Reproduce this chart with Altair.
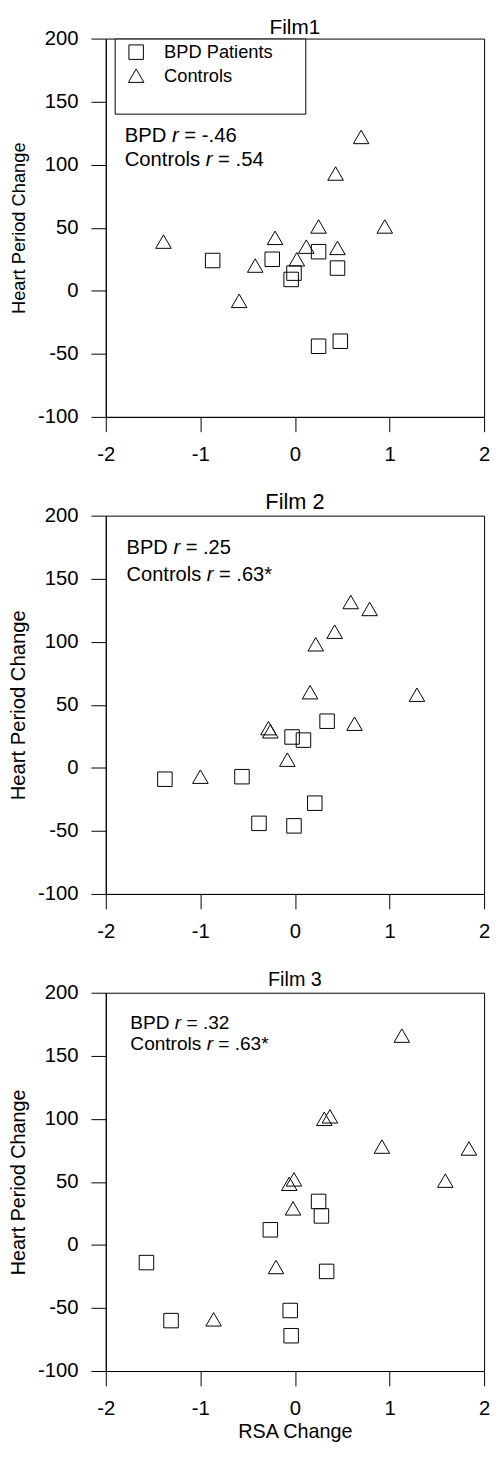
import altair as alt
import pandas as pd

FONT = "Liberation Sans"

groups = ["BPD Patients", "Controls"]
legend_spacer = " "
shapes = ["square", "triangle-up", "M0,0"]
marker_sizes = [215, 280, 0]

x_ticks = [-2, -1, 0, 1, 2]
y_ticks = [-100, -50, 0, 50, 100, 150, 200]

titles = ["Film1", "Film 2", "Film 3"]

# Film 1
f1_bpd_x = [-0.87, -0.24, -0.04, -0.01, 0.25, 0.45, 0.25, 0.48]
f1_bpd_y = [24, 25, 9, 14, 31, 18, -44, -40]
f1_ctl_x = [-1.39, -0.59, -0.42, -0.21, 0.02, 0.12, 0.25, 0.45, 0.43, 0.70, 0.95]
f1_ctl_y = [39, -8, 20, 42, 25, 35, 51, 34, 93, 122, 51]

# Film 2
f2_bpd_x = [-1.375, -0.56, -0.38, -0.01, 0.21, -0.03, 0.09, 0.34]
f2_bpd_y = [-9, -7, -44, -46, -28, 24.5, 22, 37]
f2_ctl_x = [-1.0, -0.28, -0.26, -0.08, 0.16, 0.22, 0.42, 0.59, 0.79, 0.63, 1.29]
f2_ctl_y = [-7, 31.5, 29, 6.5, 60, 98, 108, 131.5, 126, 35, 58]

# Film 3
f3_bpd_x = [-1.57, -1.31, -0.26, -0.05, -0.04, 0.25, 0.28, 0.335]
f3_bpd_y = [-14, -60, 12, -52, -72, 34.5, 23, -21]
f3_ctl_x = [-0.86, -0.20, -0.02, -0.06, -0.01, 0.31, 0.37, 0.92, 1.13, 1.59, 1.84]
f3_ctl_y = [-59, -17.5, 29, 48.5, 52, 100, 102, 78, 166, 51, 76.5]

bpd_x = [f1_bpd_x, f2_bpd_x, f3_bpd_x]
bpd_y = [f1_bpd_y, f2_bpd_y, f3_bpd_y]
ctl_x = [f1_ctl_x, f2_ctl_x, f3_ctl_x]
ctl_y = [f1_ctl_y, f2_ctl_y, f3_ctl_y]

# annotation text: (prefix, italic, suffix) per line
ann_text = [
    [("BPD", "r", "= -.46"), ("Controls", "r", "= .54")],
    [("BPD", "r", "= .25"), ("Controls", "r", "= .63*")],
    [("BPD", "r", "= .32"), ("Controls", "r", "= .63*")],
]
ann_x = [-1.80, -1.78, -1.74]
ann_y = [[123, 104], [174, 153], [176, 159]]
ann_fs = [20.5, 20.3, 19.3]
ytitle_fs = [18.5, 20.5, 20]
title_fs = [21, 22, 20]
title_off = [-9.5, -8, -7.6]

# Arial/Liberation Sans advance widths (em) for spacing pieces of text
ADV = {"B": .667, "P": .667, "D": .722, " ": .278, "C": .722, "o": .556,
       "n": .556, "t": .278, "r": .333, "l": .222, "s": .5}


def tw(s, fs):
    return sum(ADV[c] for c in s) * fs


xscale = alt.Scale(domain=[-2, 2], nice=False, zero=False)
yscale = alt.Scale(domain=[-100, 200], nice=False, zero=False)
LABEL_EXPR = "'' + datum.value"


def panel(i):
    n_b, n_c = len(bpd_x[i]), len(ctl_x[i])
    df = pd.DataFrame({
        "x": bpd_x[i] + ctl_x[i],
        "y": bpd_y[i] + ctl_y[i],
        "group": [groups[0]] * n_b + [groups[1]] * n_c,
    })
    if i == 0:
        legend = alt.Legend(
            title=None,
            orient="none", legendX=9, legendY=0,
            strokeColor="black", fillColor="white", padding=4.5,
            symbolOffset=8, labelOffset=19, rowPadding=4.8,
            labelFont=FONT, labelFontSize=18.5, labelColor="black",
            symbolStrokeColor="black", symbolStrokeWidth=1,
            labelExpr="datum.label + '\u2800\u2800'",
        )
    else:
        legend = None
    dom = groups + [legend_spacer]
    xaxis = alt.Axis(values=x_ticks, title="RSA Change" if i == 2 else None,
                     titleFontSize=20, titlePadding=3, labelFlush=False,
                     labelExpr=LABEL_EXPR)
    yaxis = alt.Axis(values=y_ticks, title="Heart Period Change",
                     titleFontSize=ytitle_fs[i], labelExpr=LABEL_EXPR)
    pts = alt.Chart(df).mark_point(
        filled=False, color="black", strokeWidth=1, opacity=1
    ).encode(
        x=alt.X("x:Q", scale=xscale, axis=xaxis),
        y=alt.Y("y:Q", scale=yscale, axis=yaxis),
        shape=alt.Shape("group:N", scale=alt.Scale(domain=dom, range=shapes), legend=legend),
        size=alt.Size("group:N", scale=alt.Scale(domain=dom, range=marker_sizes), legend=legend),
    )
    layers = [pts]
    fs = ann_fs[i]
    for (pre, it, post), yv in zip(ann_text[i], ann_y[i]):
        pieces = [
            (pre, 0, "normal"),
            (it, tw(pre + " ", fs), "italic"),
            (post, tw(pre + " " + it + " ", fs), "normal"),
        ]
        for txt, dx, style in pieces:
            d = pd.DataFrame({"x": [ann_x[i]], "y": [yv], "t": [txt]})
            layers.append(
                alt.Chart(d).mark_text(
                    align="left", baseline="middle", dx=dx, font=FONT,
                    fontSize=fs, fontStyle=style, color="black"
                ).encode(
                    x=alt.X("x:Q", scale=xscale),
                    y=alt.Y("y:Q", scale=yscale),
                    text="t:N",
                )
            )
    return alt.layer(*layers).properties(
        width=383, height=383,
        title=alt.TitleParams(titles[i], font=FONT, fontSize=title_fs[i],
                              fontWeight="normal", color="black",
                              offset=title_off[i],
                              frame="group", anchor="middle"),
    )


chart = alt.vconcat(
    panel(0), panel(1), panel(2), spacing=100, bounds="flush"
).resolve_legend(
    shape="independent", size="independent"
).properties(
    padding={"left": 0, "top": 0, "right": 0, "bottom": 0}
).configure_view(
    stroke="black", strokeWidth=1
).configure_axis(
    grid=False, domainColor="black", domainWidth=1, tickColor="black",
    tickWidth=1, tickSize=15, labelPadding=13, labelFont=FONT,
    labelFontSize=20.5, labelColor="black", titleFont=FONT,
    titleFontWeight="normal", titleColor="black", titlePadding=9,
)

chart.save("out.html", embed_options={"renderer": "svg", "actions": False})
